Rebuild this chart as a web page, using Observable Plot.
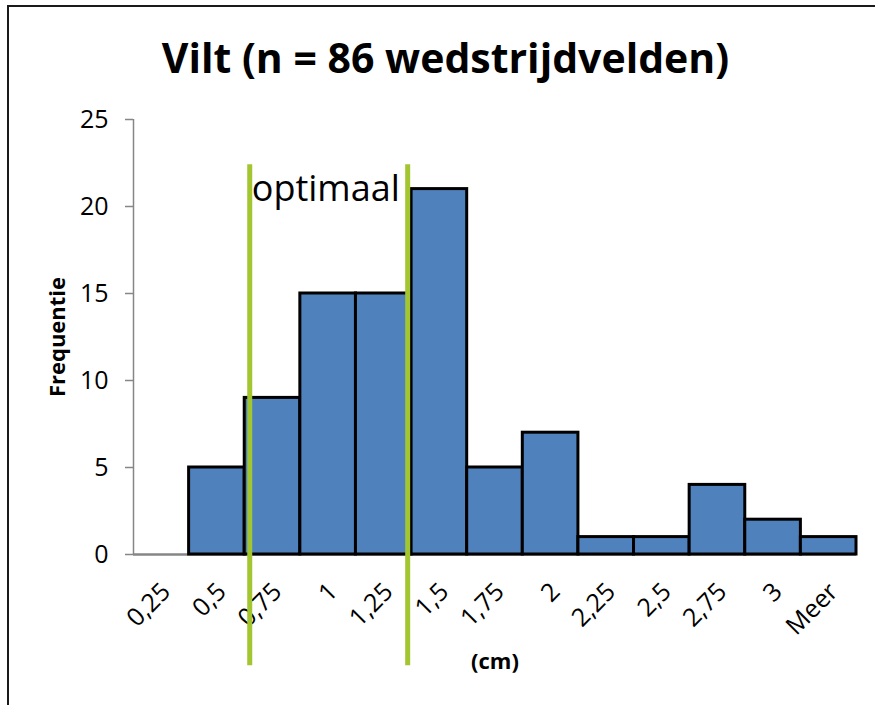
<!DOCTYPE html>
<html>
<head>
<meta charset="utf-8">
<script src="https://cdn.jsdelivr.net/npm/d3@7"></script>
<script src="https://cdn.jsdelivr.net/npm/@observablehq/plot@0.6"></script>
<style>
  html, body { margin: 0; padding: 0; background: #fff; }
  #wrap { position: relative; width: 875px; height: 705px; overflow: hidden; font-family: "Open Sans", sans-serif; }
  #frame { position: absolute; left: 7px; top: 5px; width: 1000px; height: 1000px; border: 2px solid #1a1a1a; box-sizing: border-box; }
  #title { position: absolute; left: 8px; top: 37px; width: 875px; text-align: center; font-weight: bold; font-size: 41px; line-height: 41px; color: #000; }
  #chart { position: absolute; left: 0; top: 100px; }
</style>
</head>
<body>
<div id="wrap">
  <div id="frame"></div>
  <div id="title">Vilt (n = 86 wedstrijdvelden)</div>
  <div id="chart"></div>
</div>
<script>
// ---- data ----
const categories = ["0,25", "0,5", "0,75", "1", "1,25", "1,5", "1,75", "2", "2,25", "2,5", "2,75", "3", "Meer"];
const frequencies = [0, 5, 9, 15, 15, 21, 5, 7, 1, 1, 4, 2, 1];
const yTicks = [0, 5, 10, 15, 20, 25];
const yLabel = "Frequentie";
const xLabel = "(cm)";
// optimal range markers, in category-index units (band i spans [i, i+1])
const optimalBounds = [2.09, 4.93];
const optimalSpan = [-6.4, 22.4];
const optimalLabel = "optimaal";
const optimalLabelY = 20.3;

const bars = categories.map((c, i) => ({i, cat: c, freq: frequencies[i]}));
const shownBars = bars.filter(d => d.freq > 0);

const plot = Plot.plot({
  width: 875,
  height: 605,
  marginTop: 19,
  marginBottom: 151,
  marginLeft: 133,
  marginRight: 19,
  style: {fontFamily: "Open Sans, sans-serif", fontSize: "25px", color: "#000", background: "transparent", overflow: "visible"},
  x: {type: "linear", domain: [0, categories.length], axis: null},
  y: {domain: [0, 25], axis: null},
  marks: [
    // y axis line and zero baseline
    Plot.ruleX([0], {y1: 0, y2: 25, stroke: "#868686", strokeWidth: 1.5}),
    Plot.ruleY([0], {x1: 0, x2: categories.length, stroke: "#868686", strokeWidth: 2.5}),
    Plot.axisY({ticks: yTicks, tickSize: 8, tickPadding: 17, stroke: "#868686", strokeWidth: 1.5, fontSize: 25, label: null}),
    // bars
    Plot.rectY(shownBars, {x1: "i", x2: d => d.i + 1, y: "freq", fill: "#4f81bd", stroke: "#000", strokeWidth: 3}),
    // x tick labels
    Plot.text(bars, {x: d => d.i + 0.5, frameAnchor: "bottom", text: "cat", rotate: -45, textAnchor: "end", lineAnchor: "middle", dx: 5, dy: 33, fontSize: 25}),
    // axis titles
    Plot.text([yLabel], {frameAnchor: "left", text: d => d, rotate: -90, textAnchor: "middle", lineAnchor: "middle", dx: -76, fontWeight: "bold", fontSize: 22}),
    Plot.text([xLabel], {frameAnchor: "bottom", text: d => d, textAnchor: "middle", lineAnchor: "middle", dy: 107, fontWeight: "bold", fontSize: 22}),
    // optimal range lines
    Plot.ruleX(optimalBounds, {y1: optimalSpan[0], y2: optimalSpan[1], stroke: "#a2c530", strokeWidth: 5}),
    Plot.text([optimalLabel], {x: optimalBounds[0], y: optimalLabelY, text: d => d, textAnchor: "start", lineAnchor: "bottom", dx: 2, fontSize: 36})
  ]
});
document.getElementById("chart").appendChild(plot);
</script>
</body>
</html>
